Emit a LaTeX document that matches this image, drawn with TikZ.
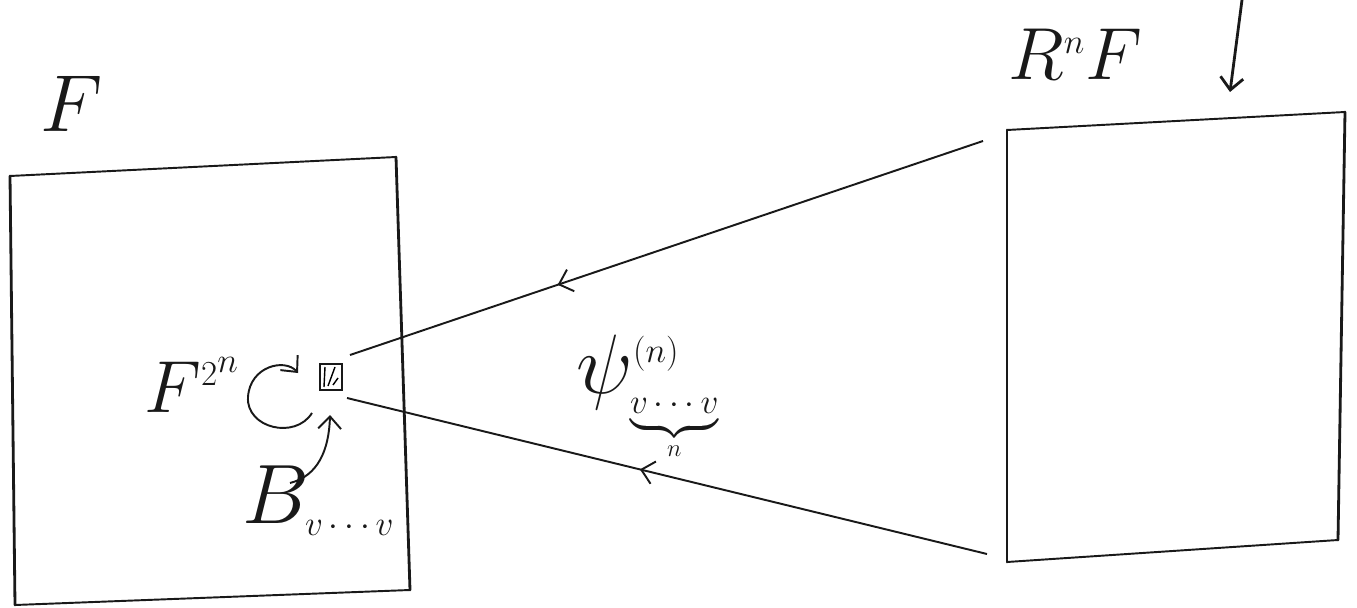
\RequirePackage{fix-cm}
\documentclass[tikz,border=0pt]{standalone}
\usepackage{amsmath, amssymb}
\usepackage{tikz}
\usetikzlibrary{arrows.meta, positioning, calc, decorations.markings}
\definecolor{pencil}{RGB}{25, 25, 25}
\newcommand{\smallmath}[1]{\mbox{\fontsize{20}{22}\selectfont$#1$}}

\begin{document}
\begin{tikzpicture}[x=0.02cm, y=-0.02cm, >={Straight Barb[length=7pt, width=13pt]},
    side/.style={line width=1.6pt, pencil, line cap=round},
    rim/.style={line width=1.1pt, pencil, line cap=round},
    link/.style={line width=1.1pt, pencil},
    bigtxt/.style={font=\fontsize{#1}{#1}\selectfont, inner sep=0pt, pencil},
    bigtxt/.default=44,
    midarrow/.style={postaction={decorate, decoration={markings, mark=at position #1 with {\arrow{<}}}}}]
    \useasboundingbox (0,0) rectangle (1357,608);

    % Domain of F
    \coordinate (FTL) at (10,176);  \coordinate (FTR) at (396,157);
    \coordinate (FBR) at (410,590); \coordinate (FBL) at (15,605);
    \draw[side] (FTL) -- (FBL);
    \draw[side] (FTR) -- (FBR);
    \draw[rim] (FTL) -- (FTR);
    \draw[rim] (FBL) -- (FBR);
    \node[bigtxt=46, anchor=base west] (lblF) at (40,132) {$F$};

    % Domain of the renormalization
    \coordinate (RTL) at (1007,130); \coordinate (RTR) at (1345,112);
    \coordinate (RBR) at (1338,540); \coordinate (RBL) at (1007,562);
    \draw[side] (RTL) -- (RBL);
    \draw[side] (RTR) -- (RBR);
    \draw[rim] (RTL) -- (RTR);
    \draw[rim] (RBL) -- (RBR);
    \node[bigtxt=42, anchor=base west] (lblR) at (1008,80) {$R^{\smallmath{n}}F$};
    \coordinate (in0) at (1242,0); \coordinate (in1) at (1230,92);
    \draw[side, ->] (in0) -- (in1);

    % Small box B and its return map
    \node[draw, line width=1pt, pencil, minimum width=0.44cm, minimum height=0.52cm, inner sep=0pt] (blk) at (331,377) {};
    \draw[line width=0.8pt] (325,367) -- (324,387);
    \draw[line width=0.8pt] (328,386) -- (335,367);
    \draw[line width=0.8pt] (333,385) -- (338,378);
    \node[bigtxt=42, anchor=base west] (lblFn) at (144,412) {$F^{\smallmath{2^{\smallmath{n}}}}$};
    \draw[link, ->] (312,413) .. controls (295,440) and (246,428) .. (248,397)
        .. controls (250,366) and (285,358) .. (298,373);
    \node[bigtxt=48, anchor=base west] (lblB) at (242,523) {$B_{\smallmath{v\cdots v}}$};
    \draw[link, ->] (290,483) .. controls (318,476) and (329,450) .. (330,415);

    % Rescaling map
    \coordinate (up0) at (350,355); \coordinate (up1) at (983,141);
    \coordinate (lo0) at (347,398); \coordinate (lo1) at (987,554);
    \draw[link, midarrow=0.35] (up0) -- (up1);
    \draw[link, midarrow=0.48] (lo0) -- (lo1);
    \node[bigtxt=48, anchor=base west] (lblpsi) at (576,393) {$\psi^{\smallmath{(n)}}_{\smallmath{\underbrace{v\cdots v\vphantom{g}}_{n}}}$};
\end{tikzpicture}
\end{document}
